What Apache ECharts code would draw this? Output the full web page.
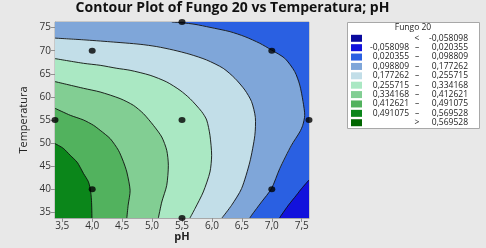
<!DOCTYPE html>
<html><head><meta charset="utf-8">
<script src="https://cdn.jsdelivr.net/npm/echarts@6/dist/echarts.min.js"></script>
<style>html,body{margin:0;padding:0;background:#E8E8E8;}#c{width:486px;height:248px;}</style>
</head><body><div id="c"></div>
<script>
// ---- data ----
const chartTitle = 'Contour Plot of Fungo 20 vs Temperatura; pH';
const xName = 'pH';
const yName = 'Temperatura';
const legendTitle = 'Fungo 20';
const xTicks = [3.5, 4.0, 4.5, 5.0, 5.5, 6.0, 6.5, 7.0, 7.5];
const yTicks = [35, 40, 45, 50, 55, 60, 65, 70, 75];
const pHRange = [3.3787, 7.6213];
const tempRange = [33.787, 76.213];
// contour levels (Fungo 20)
const levels = [-0.058098, 0.020355, 0.098809, 0.177262, 0.255715, 0.334168, 0.412621, 0.491075, 0.569528];
const bandColors = ['#0A0A9E', '#1212DC', '#2A60E2', '#7FA6D9', '#C2DEE8', '#AAE8C3', '#82CE93', '#52B25E', '#0B861A', '#006600'];
// contour lines [pH, Temperatura]
const contour020355 = [[7.6213,42.0],[7.50,40.2],[7.41,38.7],[7.28,36.6],[7.16,34.4],[7.13,33.787]];
const contour098809 = [[5.33,76.213],[5.5,76.05],[5.717,75.71],[5.967,75.06],[6.3,74.13],[6.55,73.05],[6.8,71.6],[6.995,70.15],[7.217,68.35],[7.383,65.48],[7.467,62.58],[7.522,58.98],[7.55,56.02],[7.517,53.85],[7.467,52.4],[7.328,49.52],[7.133,44.48],[6.995,40.15],[6.828,37.25],[6.662,34.37],[6.633,33.787]];
const contour177262 = [[3.3787,72.73],[3.85,72.36],[4.3,71.93],[4.8,71.39],[5.078,70.89],[5.355,70.15],[5.633,69.22],[5.912,67.99],[6.188,66.19],[6.383,64.03],[6.55,61.49],[6.662,58.98],[6.725,55.58],[6.717,51.69],[6.633,45.91],[6.495,40.15],[6.328,36.54],[6.167,33.787]];
const contour255715 = [[3.3787,68.29],[3.855,67.27],[4.133,66.84],[4.412,66.19],[4.633,65.76],[4.967,64.68],[5.245,63.23],[5.467,61.43],[5.633,59.63],[5.828,56.82],[5.912,55.0],[5.967,51.69],[5.995,47.36],[5.967,43.74],[5.855,39.42],[5.717,35.82],[5.633,33.787]];
const contour334168 = [[3.3787,63.31],[3.855,61.86],[4.133,61.06],[4.467,59.63],[4.688,58.18],[4.855,56.39],[5.022,53.85],[5.162,51.32],[5.245,48.44],[5.272,45.19],[5.245,40.86],[5.162,37.25],[5.105,33.787]];
const contour412621 = [[3.3787,57.53],[3.633,56.02],[3.855,55.0],[4.022,53.85],[4.133,52.77],[4.3,50.97],[4.438,48.44],[4.52,46.0],[4.578,43.74],[4.633,39.78],[4.6,36.54],[4.578,33.787]];
const contour491075 = [[3.3787,49.89],[3.517,48.87],[3.633,47.36],[3.75,45.84],[3.855,43.4],[3.933,41.73],[3.967,40.15],[3.988,37.6],[3.995,33.787]];
// design points
const designPH = [4.0, 7.0, 4.0, 7.0, 3.3787, 7.6213, 5.5, 5.5, 5.5];
const designTemp = [40, 40, 70, 70, 55, 55, 33.787, 76.213, 55];

// ---- build ----
const x0 = pHRange[0], x1 = pHRange[1], y0 = tempRange[0], y1 = tempRange[1];
const regions = [
  { pts: [[x0,y0],[x1,y0],[x1,y1],[x0,y1]], color: bandColors[2] },
  { pts: contour020355.concat([[x1,y0]]), color: bandColors[1] },
  { pts: contour098809.concat([[x0,y0],[x0,y1]]), color: bandColors[3] },
  { pts: contour177262.concat([[x0,y0]]), color: bandColors[4] },
  { pts: contour255715.concat([[x0,y0]]), color: bandColors[5] },
  { pts: contour334168.concat([[x0,y0]]), color: bandColors[6] },
  { pts: contour412621.concat([[x0,y0]]), color: bandColors[7] },
  { pts: contour491075.concat([[x0,y0]]), color: bandColors[8] }
];
const lines = [contour020355, contour098809, contour177262, contour255715, contour334168, contour412621, contour491075];
const fmt = v => v.toFixed(6).replace('.', ',');
const dec = v => v.toFixed(1).replace('.', ',');

const legendEls = [];
const lx = 347, ly = 22;
legendEls.push({ type: 'rect', shape: { x: lx + 0.5, y: ly + 0.5, width: 132, height: 106 }, style: { fill: '#fff', stroke: '#A8A8A8', lineWidth: 1 } });
legendEls.push({ type: 'text', x: 413, y: 27.5, style: { text: legendTitle, font: '8.5px "Open Sans"', fill: '#222', textAlign: 'center', textVerticalAlign: 'middle' } });
for (let i = 0; i < bandColors.length; i++) {
  const cy = 38.3 + i * 9.38;
  legendEls.push({ type: 'rect', shape: { x: 351, y: cy - 3.5, width: 11, height: 7 }, style: { fill: bandColors[i] } });
  let left = '', mid = '', right = '';
  if (i === 0) { mid = '<'; right = fmt(levels[0]); }
  else if (i === bandColors.length - 1) { mid = '>'; right = fmt(levels[levels.length - 1]); }
  else { left = fmt(levels[i - 1]); mid = '\u2013'; right = fmt(levels[i]); }
  const f = '8.5px "Open Sans"';
  if (left) legendEls.push({ type: 'text', x: 409, y: cy, style: { text: left, font: f, fill: '#222', textAlign: 'right', textVerticalAlign: 'middle' } });
  legendEls.push({ type: 'text', x: 417, y: cy, style: { text: mid, font: f, fill: '#222', textAlign: 'center', textVerticalAlign: 'middle' } });
  legendEls.push({ type: 'text', x: 468, y: cy, style: { text: right, font: f, fill: '#222', textAlign: 'right', textVerticalAlign: 'middle' } });
}

const chart = echarts.init(document.getElementById('c'), null, { renderer: 'canvas' });
chart.setOption({
  backgroundColor: '#E8E8E8',
  animation: false,
  grid: { left: 55, right: 177, top: 22, bottom: 30, show: true, borderColor: '#A8A8A8', borderWidth: 1, backgroundColor: 'transparent' },
  xAxis: {
    type: 'value', min: x0, max: x1,
    axisLine: { show: true, lineStyle: { color: '#A8A8A8' } },
    axisTick: { show: true, length: 4, lineStyle: { color: '#909090' }, customValues: xTicks },
    axisLabel: { customValues: xTicks, formatter: v => dec(v), color: '#333', fontSize: 10, fontFamily: 'Open Sans', margin: 3 },
    splitLine: { show: false }
  },
  yAxis: {
    type: 'value', min: y0, max: y1,
    axisLine: { show: true, lineStyle: { color: '#A8A8A8' } },
    axisTick: { show: true, length: 4, lineStyle: { color: '#909090' }, customValues: yTicks },
    axisLabel: { customValues: yTicks, formatter: v => String(Math.round(v)), color: '#333', fontSize: 10, fontFamily: 'Open Sans', margin: 4 },
    splitLine: { show: false }
  },
  graphic: [
    { type: 'text', x: 232.5, y: 8, style: { text: chartTitle, font: 'bold 14px "Open Sans"', fill: '#111', textAlign: 'center', textVerticalAlign: 'middle' } },
    { type: 'text', x: 182, y: 237, style: { text: xName, font: 'bold 11px "Open Sans"', fill: '#222', textAlign: 'center', textVerticalAlign: 'middle' } },
    { type: 'text', x: 24, y: 120, rotation: Math.PI / 2, style: { text: yName, font: '11px "Open Sans"', fill: '#222', textAlign: 'center', textVerticalAlign: 'middle' } }
  ].concat(legendEls),
  series: [
    {
      type: 'custom', coordinateSystem: 'cartesian2d', clip: true, z: 1, silent: true,
      data: regions.map((r, i) => [x0, y0, i]),
      renderItem: (params, api) => {
        const r = regions[params.dataIndex];
        return { type: 'polygon', shape: { points: r.pts.map(p => api.coord(p)) }, style: { fill: r.color, stroke: r.color, lineWidth: 0.5 } };
      }
    },
    {
      type: 'custom', coordinateSystem: 'cartesian2d', clip: true, z: 2, silent: true,
      data: lines.map((l, i) => [x0, y0, i]),
      renderItem: (params, api) => {
        const l = lines[params.dataIndex];
        return { type: 'polyline', shape: { points: l.map(p => api.coord(p)), smooth: 0.25 }, style: { stroke: '#111', lineWidth: 0.9, fill: null } };
      }
    },
    {
      type: 'scatter', z: 3, clip: false, symbol: 'circle', symbolSize: [7, 6],
      itemStyle: { color: '#000' },
      data: designPH.map((p, i) => [p, designTemp[i]])
    }
  ]
});
</script></body></html>
